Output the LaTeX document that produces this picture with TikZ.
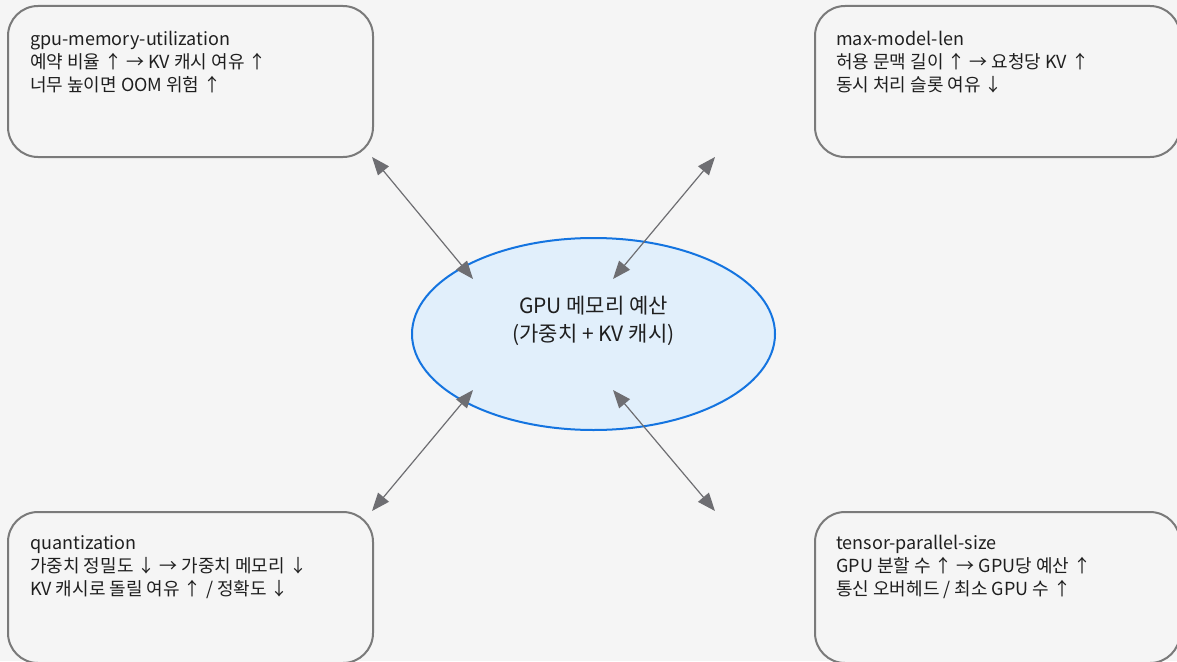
\documentclass[tikz,border=0pt]{standalone}
\usepackage{fontspec}
\setmainfont{Noto Sans CJK KR}
\usetikzlibrary{shapes.geometric,arrows.meta}
\definecolor{bgcol}{HTML}{F5F5F5}
\definecolor{boxline}{HTML}{7A7A7A}
\definecolor{ellline}{HTML}{1474E0}
\definecolor{ellfill}{HTML}{E1EFFB}
\definecolor{arrcol}{HTML}{6E6E72}
\definecolor{txtcol}{HTML}{1F1F1F}
\tikzset{
  parambox/.style={draw=boxline, line width=2pt, rounded corners=30pt,
    minimum width=365pt, minimum height=151pt, inner sep=0pt, fill=bgcol},
  boxtext/.style={anchor=north west, inner sep=0pt, align=left, text=txtcol,
    font=\fontsize{18}{23}\selectfont},
  budget/.style={ellipse, draw=ellline, fill=ellfill, line width=2pt,
    minimum width=363pt, minimum height=192pt, inner sep=0pt},
  link/.style={draw=arrcol, line width=1.2pt,
    {Triangle[length=18pt,width=14pt]}-{Triangle[length=18pt,width=14pt]}}
}
\begin{document}
\begin{tikzpicture}[x=1pt, y=-1pt]
  \useasboundingbox (0,0) rectangle (1177,661);
  \fill[bgcol] (0,0) rectangle (1177,661);
  \clip (0,0) rectangle (1177,661);

  % four parameter boxes
  \node[parambox] (gmu) at (190.5,81.5) {};
  \node[parambox] (mml) at (997.5,81.5) {};
  \node[parambox] (qnt) at (190.5,587.5) {};
  \node[parambox] (tps) at (997.5,587.5) {};

  \node[boxtext] (gmu-t) at (30,31) {gpu-memory-utilization\\예약 비율 ↑ → KV 캐시 여유 ↑\\너무 높이면 OOM 위험 ↑};
  \node[boxtext] (mml-t) at (836,31) {max-model-len\\허용 문맥 길이 ↑ → 요청당 KV ↑\\동시 처리 슬롯 여유 ↓};
  \node[boxtext] (qnt-t) at (30,535) {quantization\\가중치 정밀도 ↓ → 가중치 메모리 ↓\\KV 캐시로 돌릴 여유 ↑ / 정확도 ↓};
  \node[boxtext] (tps-t) at (836,535) {tensor-parallel-size\\GPU 분할 수 ↑ → GPU당 예산 ↑\\통신 오버헤드 / 최소 GPU 수 ↑};

  % central budget ellipse
  \node[budget] (mem) at (593.5,334) {};
  \node[align=center, inner sep=0pt, text=txtcol, font=\fontsize{21}{28}\selectfont]
    (mem-t) at (593.5,321) {GPU 메모리 예산\\(가중치 + KV 캐시)};

  % connector end points
  \coordinate (gmu-end) at (372,157);
  \coordinate (gmu-mem) at (473,279);
  \coordinate (mml-end) at (715,157);
  \coordinate (mml-mem) at (613,279);
  \coordinate (qnt-end) at (372,511);
  \coordinate (qnt-mem) at (473,390);
  \coordinate (tps-end) at (715,511);
  \coordinate (tps-mem) at (613,390);

  \draw[link] (gmu-end) -- (gmu-mem);
  \draw[link] (mml-end) -- (mml-mem);
  \draw[link] (qnt-end) -- (qnt-mem);
  \draw[link] (tps-end) -- (tps-mem);
\end{tikzpicture}
\end{document}
